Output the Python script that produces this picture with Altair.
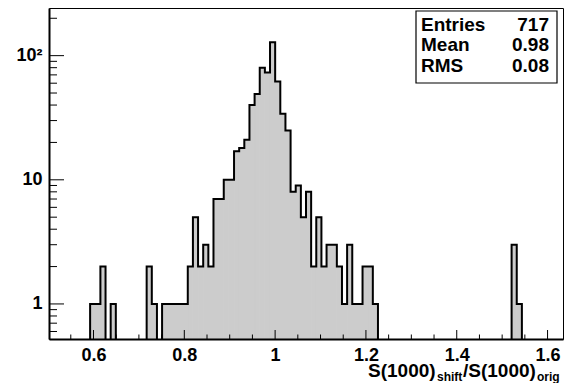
import altair as alt
import pandas as pd

# ---- axis ranges / binning ----
XMIN, XMAX = 0.502, 1.634
YMIN, YMAX = 0.522, 242
BIN_W = 0.01132
FLOOR = 0.3  # stands for an empty bin (below the log axis, clipped away)

# histogram: bin number (from XMIN) and its content
bin_index = [8, 9, 10, 12, 19, 20, 22, 23, 24, 25, 26,
             27, 28, 29, 30, 31, 32, 33, 34, 35, 36, 37, 38, 39, 40,
             41, 42, 43, 44, 45, 46, 47, 48, 49, 50, 51, 52, 53, 54,
             55, 56, 57, 58, 59, 60, 61, 62, 63, 90, 91]
counts = [1, 1, 2, 1, 2, 1, 1, 1, 1, 1, 1,
          2, 5, 2, 3, 2, 7, 7, 10, 10, 17, 18, 21, 40, 49,
          80, 73, 128, 62, 34, 25, 8, 9, 5, 8, 2, 5, 2, 3,
          3, 2, 1, 3, 1, 1, 2, 2, 1, 3, 1]

stat_names = ["Entries", "Mean", "RMS"]
stat_values = ["717", "0.98", "0.08"]

x_major = [0.6, 0.8, 1.0, 1.2, 1.4, 1.6]
x_minor = [0.55, 0.65, 0.7, 0.75, 0.85, 0.9, 0.95, 1.05, 1.1, 1.15,
           1.25, 1.3, 1.35, 1.45, 1.5, 1.55]
y_major = [1, 10, 100]
y_minor = [0.6, 0.7, 0.8, 0.9, 2, 3, 4, 5, 6, 7, 8, 9,
           20, 30, 40, 50, 60, 70, 80, 90, 200]

title_parts = ["S(1000)", "shift", "/S(1000)", "orig"]

FONT = "Liberation Sans"
W, H = 514, 331

# ---- tables built from the lists ----
bars = pd.DataFrame({
    "left": [XMIN + i * BIN_W for i in bin_index],
    "right": [XMIN + (i + 1) * BIN_W for i in bin_index],
    "count": counts,
    "base": [YMIN] * len(counts),
})

content = dict(zip(bin_index, counts))
first, last = min(bin_index), max(bin_index)
ox, oy = [XMIN + first * BIN_W], [FLOOR]
for i in range(first, last + 1):
    ox.append(XMIN + i * BIN_W)
    oy.append(content.get(i, FLOOR))
ox.append(XMIN + (last + 1) * BIN_W)
oy.append(FLOOR)
outline = pd.DataFrame({"x": ox, "y": oy, "k": list(range(len(ox)))})

xscale = alt.Scale(domain=[XMIN, XMAX], nice=False, zero=False)
yscale = alt.Scale(type="log", domain=[YMIN, YMAX], nice=False)

x_axis = alt.Axis(values=x_major, title=None, ticks=False, grid=False,
                  labelExpr="format(datum.value, '~g')",
                  labelFont=FONT, labelFontSize=18, labelFontWeight="bold",
                  labelColor="black", labelPadding=7, labelFlush=False,
                  domainColor="black", domainWidth=2, zindex=2)
y_axis = alt.Axis(values=y_major, title=None, ticks=False, grid=False,
                  labelExpr="datum.value >= 100 ? '10²' : (datum.value >= 10 ? '10' : '1')",
                  labelFont=FONT, labelFontSize=18, labelFontWeight="bold",
                  labelColor="black", labelPadding=7,
                  domainColor="black", domainWidth=2, zindex=2)

fill = alt.Chart(bars).mark_rect(fill="#cccccc", stroke="#cccccc", strokeWidth=1).encode(
    x=alt.X("left:Q", scale=xscale, axis=x_axis),
    x2="right:Q",
    y=alt.Y("count:Q", scale=yscale, axis=y_axis),
    y2="base:Q",
)

line = alt.Chart(outline).mark_line(color="black", strokeWidth=2, interpolate="step-after",
                                    clip=True).encode(
    x=alt.X("x:Q", scale=xscale, axis=x_axis),
    y=alt.Y("y:Q", scale=yscale, axis=y_axis),
    order=alt.Order("k:Q"),
)

def yticks(vals, length):
    return alt.Chart(pd.DataFrame({"v": vals})).mark_rule(color="black", strokeWidth=1).encode(
        y=alt.Y("v:Q", scale=yscale, axis=y_axis), x=alt.value(0), x2=alt.value(length))

def xticks(vals, length):
    return alt.Chart(pd.DataFrame({"v": vals})).mark_rule(color="black", strokeWidth=1).encode(
        x=alt.X("v:Q", scale=xscale, axis=x_axis), y=alt.value(H), y2=alt.value(H - length))

one = pd.DataFrame({"a": [0]})
box = alt.Chart(one).mark_rect(fill="white", stroke="black", strokeWidth=1.2).encode(
    x=alt.value(367), x2=alt.value(508), y=alt.value(3), y2=alt.value(75))

stats = []
for r, (nm, vl) in enumerate(zip(stat_names, stat_values)):
    df = pd.DataFrame({"name": [nm], "val": [vl]})
    yb = 23 + 20.3 * r
    stats.append(alt.Chart(df).mark_text(align="left", baseline="alphabetic", font=FONT,
                                         fontSize=19, fontWeight="bold", color="black").encode(
        x=alt.value(372), y=alt.value(yb), text="name:N"))
    stats.append(alt.Chart(df).mark_text(align="right", baseline="alphabetic", font=FONT,
                                         fontSize=19, fontWeight="bold", color="black").encode(
        x=alt.value(500), y=alt.value(yb), text="val:N"))

tdf = pd.DataFrame({"t": title_parts})
title_layers = []
for t, xp, yp, fs in zip(title_parts, [319, 388, 414, 488], [368.5, 373, 368.5, 373], [19, 12, 19, 12]):
    title_layers.append(alt.Chart(tdf).transform_filter(alt.datum.t == t).mark_text(
        align="left", baseline="alphabetic", font=FONT, fontSize=fs, fontWeight="bold",
        color="black").encode(x=alt.value(xp), y=alt.value(yp), text="t:N"))

chart = alt.layer(
    fill, line,
    yticks(y_major, 15), yticks(y_minor, 8),
    xticks(x_major, 9), xticks(x_minor, 4.5),
    box, *stats, *title_layers,
).properties(
    width=W, height=H,
    autosize=alt.AutoSizeParams(type="none"),
    padding={"left": 41, "top": 0, "right": 3, "bottom": 44},
    background="white",
).configure_view(stroke="black", strokeWidth=1)

chart.save("out.html", embed_options={"renderer": "svg", "actions": False})
